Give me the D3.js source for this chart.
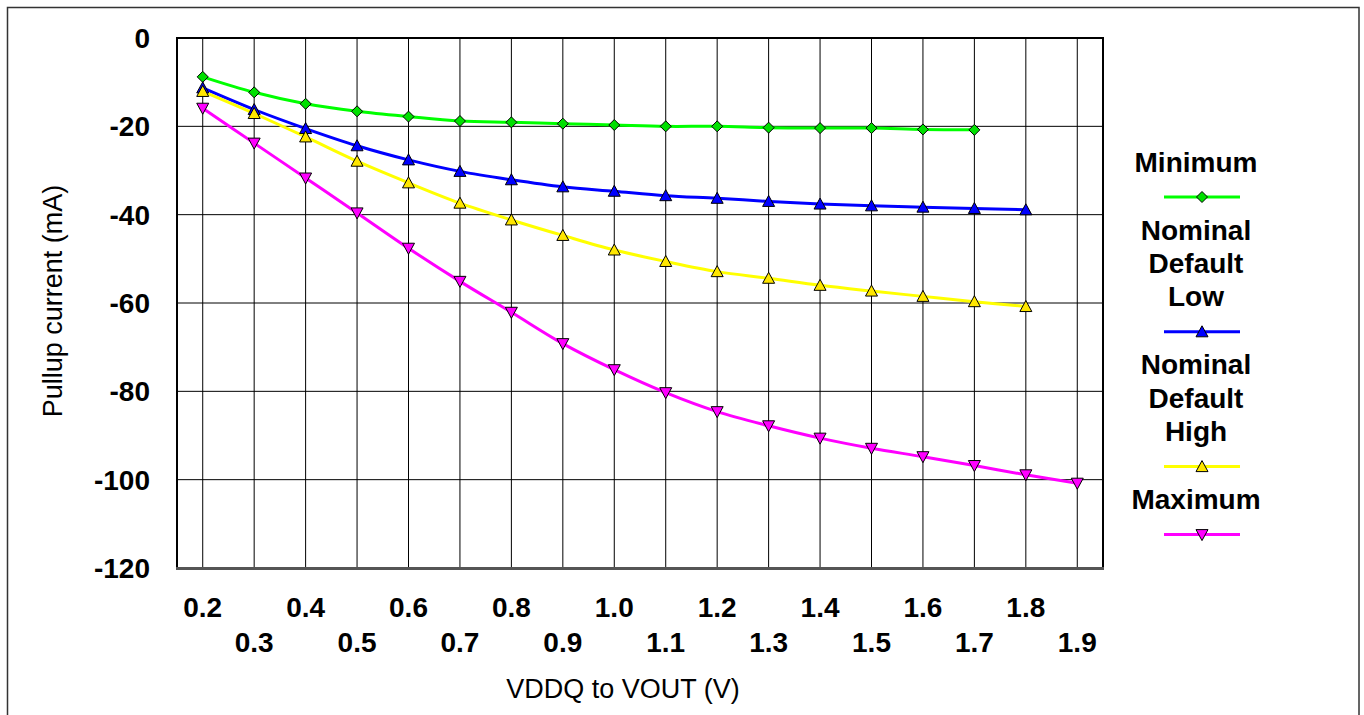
<!DOCTYPE html>
<html lang="en">
<head>
    <meta charset="UTF-8">
    <title>Pullup current vs VDDQ to VOUT</title>
    <style>
        body { margin: 0; background: #fff; }
        text { font-family: Arial, "Liberation Sans", sans-serif; fill: #000; }
    </style>
</head>
<body>
<svg width="1364" height="715"></svg>

<script src="https://d3js.org/d3.v7.min.js"></script>
<script>

    var voltages = ["0.2", "0.3", "0.4", "0.5", "0.6", "0.7", "0.8", "0.9", "1.0",
                    "1.1", "1.2", "1.3", "1.4", "1.5", "1.6", "1.7", "1.8", "1.9"];

    var minimum     = [-8.8, -12.3, -14.9, -16.6, -17.8, -18.8, -19.1, -19.4, -19.7,
                       -20.0, -20.0, -20.3, -20.4, -20.4, -20.7, -20.8];
    var nominalLow  = [-11.3, -16.2, -20.5, -24.4, -27.6, -30.2, -32.1, -33.7, -34.7,
                       -35.7, -36.3, -37.0, -37.6, -38.0, -38.3, -38.6, -38.9];
    var nominalHigh = [-12.1, -17.1, -22.4, -27.9, -32.8, -37.4, -41.2, -44.7, -48.0,
                       -50.6, -52.9, -54.4, -56.0, -57.3, -58.5, -59.7, -60.8];
    var maximum     = [-15.9, -23.8, -31.7, -39.6, -47.6, -55.1, -62.1, -69.2, -75.1,
                       -80.3, -84.6, -87.8, -90.6, -92.9, -94.8, -96.8, -98.9, -100.8];

    var yTicks = [0, -20, -40, -60, -80, -100, -120];

    var legendLabels = [["Minimum"], ["Nominal", "Default", "Low"],
                        ["Nominal", "Default", "High"], ["Maximum"]];

    var series = [
        {values: minimum,     line: "#00ff00", fill: "#00e000", shape: "diamond"},
        {values: nominalLow,  line: "#0000ff", fill: "#0000ff", shape: "up"},
        {values: nominalHigh, line: "#ffff00", fill: "#ffe600", shape: "up"},
        {values: maximum,     line: "#ff00ff", fill: "#ff00ff", shape: "down"}
    ];

    var svg = d3.select("svg");

    var plot = {left: 177, right: 1103, top: 38, bottom: 568};

    // outer frame (bottom edge runs off the picture)
    svg.append("rect")
        .attr("x", 7.5).attr("y", 7.5)
        .attr("width", 1351.5).attr("height", 740)
        .attr("fill", "none").attr("stroke", "#333").attr("stroke-width", 1.5);

    var x = d3.scalePoint().domain(voltages).range([plot.left, plot.right]).padding(0.5);
    var y = d3.scaleLinear().domain([-120, 0]).range([plot.bottom, plot.top]);

    // grid
    svg.append("g").selectAll("line")
        .data(voltages).enter().append("line")
        .attr("x1", function(d) { return x(d); })
        .attr("x2", function(d) { return x(d); })
        .attr("y1", plot.top).attr("y2", plot.bottom)
        .attr("stroke", "#000").attr("stroke-width", 1);

    svg.append("g").selectAll("line")
        .data(yTicks.slice(1, -1)).enter().append("line")
        .attr("x1", plot.left).attr("x2", plot.right)
        .attr("y1", function(d) { return y(d); })
        .attr("y2", function(d) { return y(d); })
        .attr("stroke", "#000").attr("stroke-width", 1);

    // plot border
    svg.append("path")
        .attr("d", "M" + plot.left + "," + plot.bottom + "V" + plot.top + "H" + plot.right + "V" + plot.bottom)
        .attr("fill", "none").attr("stroke", "#000").attr("stroke-width", 2);
    svg.append("line")
        .attr("x1", plot.left - 1).attr("x2", plot.right + 1)
        .attr("y1", plot.bottom + 0.5).attr("y2", plot.bottom + 0.5)
        .attr("stroke", "#555").attr("stroke-width", 3);

    // y tick labels
    svg.append("g").selectAll("text")
        .data(yTicks).enter().append("text")
        .attr("x", 150)
        .attr("y", function(d) { return y(d); })
        .attr("dy", "0.36em")
        .attr("text-anchor", "end")
        .style("font-size", "28px").style("font-weight", "bold")
        .text(function(d) { return d; });

    // x tick labels, staggered on two rows
    svg.append("g").selectAll("text")
        .data(voltages).enter().append("text")
        .attr("x", function(d) { return x(d); })
        .attr("y", function(d, i) { return i % 2 == 0 ? 616.5 : 651.5; })
        .attr("text-anchor", "middle")
        .style("font-size", "28px").style("font-weight", "bold")
        .text(function(d) { return d; });

    svg.append("text")
        .attr("x", 623).attr("y", 698)
        .attr("text-anchor", "middle")
        .style("font-size", "27px")
        .text("VDDQ to VOUT (V)");

    svg.append("text")
        .attr("transform", "translate(62,301) rotate(-90)")
        .attr("text-anchor", "middle")
        .style("font-size", "27px")
        .text("Pullup current (mA)");

    function markerPath(shape) {
        if (shape == "diamond") {
            return "M0,-5.5L5.5,0L0,5.5L-5.5,0Z";
        } else if (shape == "up") {
            return "M0,-6L6,5L-6,5Z";
        }
        return "M0,6L6,-5L-6,-5Z";
    }

    var line = d3.line()
        .x(function(d, i) { return x(voltages[i]); })
        .y(function(d) { return y(d); })
        .curve(d3.curveCatmullRom);

    series.forEach(function(s) {
        svg.append("path")
            .datum(s.values)
            .attr("d", line)
            .attr("fill", "none")
            .attr("stroke", s.line)
            .attr("stroke-width", 3);
    });

    series.forEach(function(s) {
        svg.append("g").selectAll("path")
            .data(s.values).enter().append("path")
            .attr("transform", function(d, i) { return "translate(" + x(voltages[i]) + "," + y(d) + ")"; })
            .attr("d", markerPath(s.shape))
            .attr("fill", s.fill)
            .attr("stroke", "#000")
            .attr("stroke-width", 1);
    });

    // legend
    var legendY = 171.5;
    var legend = svg.append("g");
    series.forEach(function(s, k) {
        legendLabels[k].forEach(function(label, j) {
            legend.append("text")
                .attr("x", 1196)
                .attr("y", legendY)
                .attr("text-anchor", "middle")
                .style("font-size", "28px").style("font-weight", "bold")
                .text(label);
            if (j < legendLabels[k].length - 1) legendY += 33.4;
        });
        var ly = legendY + 25.5;
        legend.append("line")
            .attr("x1", 1164).attr("x2", 1240)
            .attr("y1", ly).attr("y2", ly)
            .attr("stroke", s.line).attr("stroke-width", 3);
        legend.append("path")
            .attr("transform", "translate(1202," + ly + ")")
            .attr("d", markerPath(s.shape))
            .attr("fill", s.fill)
            .attr("stroke", "#000")
            .attr("stroke-width", 1);
        legendY = ly + 42.5;
    });

</script>
</body>
</html>
